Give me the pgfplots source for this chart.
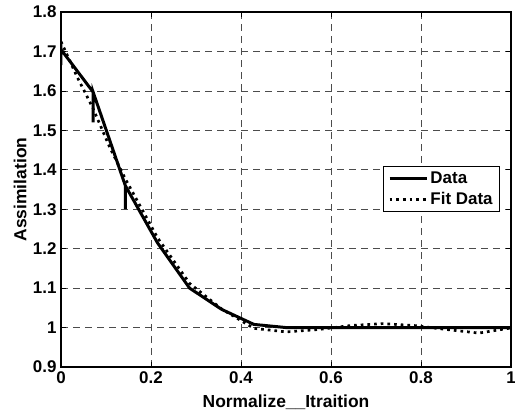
\documentclass[border=0pt]{standalone}
\usepackage{fontspec}
\setmainfont{Liberation Sans}
\usepackage{pgfplots}
\pgfplotsset{compat=1.18}
\begin{document}
\begin{tikzpicture}
\begin{axis}[
  scale only axis,
  width=450bp, height=355bp,
  xmin=0, xmax=1, ymin=0.9, ymax=1.8,
  xtick={0,0.2,0.4,0.6,0.8,1},
  ytick={0.9,1,1.1,1.2,1.3,1.4,1.5,1.6,1.7,1.8},
  /pgf/number format/assume math mode=true,
  /pgf/number format/fixed,
  tick align=inside,
  tick pos=both,
  major tick length=5bp,
  axis line style={line width=1.5pt},
  every tick/.style={black, line width=0.7pt},
  grid=major,
  major grid style={black!70, dash pattern=on 7bp off 5bp, line width=0.7pt},
  ticklabel style={font=\bfseries\fontsize{17}{19}\selectfont},
  xticklabel style={yshift=-1bp},
  yticklabel style={xshift=-1bp},
  label style={font=\bfseries\fontsize{17.5}{19}\selectfont},
  xlabel={Normalize\_\_Itraition},
  ylabel={Assimilation},
  xlabel style={at={(axis description cs:0.5,-0.0986)}, anchor=center},
  ylabel style={at={(axis description cs:-0.091,0.5)}, anchor=center},
  legend style={at={(0.9756,0.566)}, anchor=north east, draw=black, line width=0.9pt,
    font=\bfseries\fontsize{17}{19}\selectfont, cells={anchor=west},
    inner xsep=5pt, inner ysep=3pt, row sep=4pt},
  legend image code/.code={\draw[#1] (0cm,0cm) -- (1.32cm,0cm);},
  legend cell align=left,
]
\addplot[black, line width=3pt, line join=miter] coordinates {
(0,1.72) (0,1.665) (0,1.705) (0.0714,1.597) (0.0714,1.52) (0.0714,1.597)
(0.1429,1.36) (0.1429,1.30) (0.1429,1.36)
(0.2143,1.215) (0.2857,1.10) (0.3571,1.046) (0.4286,1.008) (0.5,1.0)
(0.6,1.0) (0.7,1.0) (0.8,1.0) (0.9,1.0) (1,1.0)};
\addlegendentry{Data}
\addplot[black, line width=2.7pt, dash pattern=on 2.7pt off 4pt] coordinates {
(0,1.725) (0.0357,1.636) (0.0714,1.555) (0.1071,1.46) (0.1429,1.377)
(0.2143,1.228) (0.2857,1.112) (0.3571,1.047) (0.4286,0.998) (0.5,0.989)
(0.5714,0.995) (0.6429,1.005) (0.7143,1.01) (0.7857,1.005) (0.8571,0.995)
(0.9286,0.986) (1,0.999)};
\addlegendentry{Fit Data}
\end{axis}
\pgfresetboundingbox
\path[use as bounding box] ([xshift=-61bp,yshift=-44bp]current axis.south west) rectangle ([xshift=4bp,yshift=12bp]current axis.north east);
\end{tikzpicture}
\end{document}
